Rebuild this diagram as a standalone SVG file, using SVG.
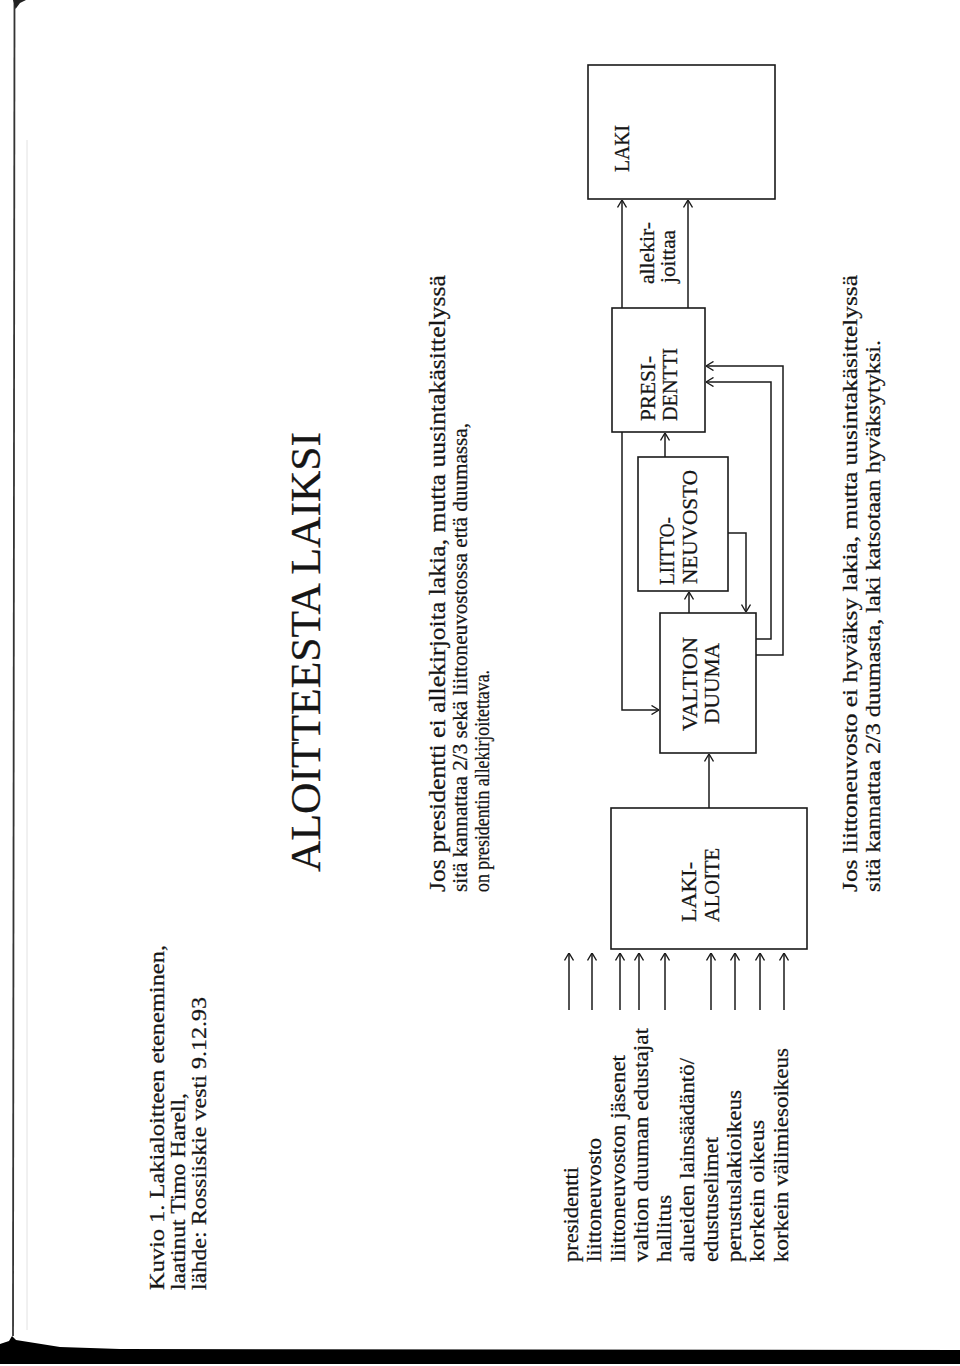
<svg xmlns="http://www.w3.org/2000/svg" width="960" height="1366" viewBox="0 0 960 1366">
<style>
.t{font-family:"Liberation Serif","DejaVu Serif",serif;fill:#151515;stroke:#151515;stroke-width:0.25}
.s20{font-size:20px}
.s21{font-size:21px}
.s23{font-size:23px}
.title{font-size:43px}
.box{fill:none;stroke:#1a1a1a;stroke-width:1.6}
.ln{fill:none;stroke:#1a1a1a;stroke-width:1.5}
</style>
<defs>
<marker id="ah" viewBox="0 0 8 10" refX="8" refY="5" markerWidth="8" markerHeight="10" markerUnits="userSpaceOnUse" orient="auto">
<path d="M0.5,0.5 L8,5 L0.5,9.5" fill="none" stroke="#1a1a1a" stroke-width="1.4"/>
</marker>
</defs>
<rect width="960" height="1366" fill="#ffffff"/>

<g id="page-edge">
<line x1="14.5" y1="0" x2="13" y2="1336" stroke="#333" stroke-width="1.8"/>
<path d="M13,0 L26,0 L20,3 L15.5,9 Z" fill="#222"/>
<line x1="27" y1="140" x2="27" y2="1330" stroke="#e2e2e2" stroke-width="1"/>
<path d="M0,1349 L0,1344 L9,1341 L12,1336 L16,1340 L60,1347 L120,1349 L960,1350 L960,1364 L0,1364 Z" fill="#000"/>
</g>

<g id="caption" class="t s21">
<text x="164" y="1290" transform="rotate(-90 164 1290)" textLength="345" lengthAdjust="spacingAndGlyphs">Kuvio 1. Lakialoitteen eteneminen,</text>
<text x="185" y="1290" transform="rotate(-90 185 1290)" textLength="197" lengthAdjust="spacingAndGlyphs">laatinut Timo Harell,</text>
<text x="206" y="1290" transform="rotate(-90 206 1290)" textLength="293" lengthAdjust="spacingAndGlyphs">lähde: Rossiiskie vesti 9.12.93</text>
</g>

<g id="title" class="t title">
<text x="320" y="872" transform="rotate(-90 320 872)" textLength="440" lengthAdjust="spacingAndGlyphs">ALOITTEESTA LAIKSI</text>
</g>

<g id="note-presidentti" class="t">
<text class="s23" x="445" y="892" transform="rotate(-90 445 892)" textLength="617" lengthAdjust="spacingAndGlyphs">Jos presidentti ei allekirjoita lakia, mutta uusintakäsittelyssä</text>
<text class="s20" x="467" y="892" transform="rotate(-90 467 892)" textLength="469" lengthAdjust="spacingAndGlyphs">sitä kannattaa 2/3 sekä liittoneuvostossa että duumassa,</text>
<text class="s20" x="489" y="892" transform="rotate(-90 489 892)" textLength="222" lengthAdjust="spacingAndGlyphs">on presidentin allekirjoitettava.</text>
</g>

<g id="note-liittoneuvosto" class="t s21">
<text x="857" y="892" transform="rotate(-90 857 892)" textLength="617" lengthAdjust="spacingAndGlyphs">Jos liittoneuvosto ei hyväksy lakia, mutta uusintakäsittelyssä</text>
<text x="880" y="892" transform="rotate(-90 880 892)" textLength="552" lengthAdjust="spacingAndGlyphs">sitä kannattaa 2/3 duumasta, laki katsotaan hyväksytyksi.</text>
</g>

<g id="initiators" class="t s21">
<text x="578" y="1262" transform="rotate(-90 578 1262)" textLength="95" lengthAdjust="spacingAndGlyphs">presidentti</text>
<text x="601" y="1262" transform="rotate(-90 601 1262)" textLength="124" lengthAdjust="spacingAndGlyphs">liittoneuvosto</text>
<text x="625" y="1262" transform="rotate(-90 625 1262)" textLength="207" lengthAdjust="spacingAndGlyphs">liittoneuvoston jäsenet</text>
<text x="648" y="1262" transform="rotate(-90 648 1262)" textLength="234" lengthAdjust="spacingAndGlyphs">valtion duuman edustajat</text>
<text x="671" y="1262" transform="rotate(-90 671 1262)" textLength="67" lengthAdjust="spacingAndGlyphs">hallitus</text>
<text x="694" y="1262" transform="rotate(-90 694 1262)" textLength="204" lengthAdjust="spacingAndGlyphs">alueiden lainsäädäntö/</text>
<text x="718" y="1262" transform="rotate(-90 718 1262)" textLength="125" lengthAdjust="spacingAndGlyphs">edustuselimet</text>
<text x="741" y="1262" transform="rotate(-90 741 1262)" textLength="172" lengthAdjust="spacingAndGlyphs">perustuslakioikeus</text>
<text x="764" y="1262" transform="rotate(-90 764 1262)" textLength="142" lengthAdjust="spacingAndGlyphs">korkein oikeus</text>
<text x="788" y="1262" transform="rotate(-90 788 1262)" textLength="214" lengthAdjust="spacingAndGlyphs">korkein välimiesoikeus</text>
</g>

<g id="laki-aloite">
<rect class="box" x="611" y="808" width="196" height="141"/>
<text class="t s21" x="696" y="922" transform="rotate(-90 696 922)" textLength="60" lengthAdjust="spacingAndGlyphs">LAKI-</text>
<text class="t s21" x="719" y="922" transform="rotate(-90 719 922)" textLength="74" lengthAdjust="spacingAndGlyphs">ALOITE</text>
</g>

<g id="valtion-duuma">
<rect class="box" x="660" y="613" width="96" height="140"/>
<text class="t s21" x="697" y="731" transform="rotate(-90 697 731)" textLength="94" lengthAdjust="spacingAndGlyphs">VALTION</text>
<text class="t s21" x="719" y="724" transform="rotate(-90 719 724)" textLength="81" lengthAdjust="spacingAndGlyphs">DUUMA</text>
</g>

<g id="liittoneuvosto">
<rect class="box" x="638" y="457" width="90" height="134"/>
<text class="t s21" x="674" y="585" transform="rotate(-90 674 585)" textLength="68" lengthAdjust="spacingAndGlyphs">LIITTO-</text>
<text class="t s21" x="697" y="584" transform="rotate(-90 697 584)" textLength="114" lengthAdjust="spacingAndGlyphs">NEUVOSTO</text>
</g>

<g id="presidentti">
<rect class="box" x="612" y="308" width="93" height="124"/>
<text class="t s21" x="655" y="421" transform="rotate(-90 655 421)" textLength="65" lengthAdjust="spacingAndGlyphs">PRESI-</text>
<text class="t s21" x="677" y="421" transform="rotate(-90 677 421)" textLength="73" lengthAdjust="spacingAndGlyphs">DENTTI</text>
</g>

<g id="laki">
<rect class="box" x="588" y="65" width="187" height="134"/>
<text class="t s21" x="629" y="172" transform="rotate(-90 629 172)" textLength="47" lengthAdjust="spacingAndGlyphs">LAKI</text>
</g>

<g id="label-allekirjoittaa" class="t s21">
<text x="654" y="284" transform="rotate(-90 654 284)" textLength="62" lengthAdjust="spacingAndGlyphs">allekir-</text>
<text x="675" y="283" transform="rotate(-90 675 283)" textLength="53" lengthAdjust="spacingAndGlyphs">joittaa</text>
</g>

<g id="connectors" class="ln">
<line x1="569" y1="1010" x2="569" y2="953" marker-end="url(#ah)"/>
<line x1="592" y1="1010" x2="592" y2="953" marker-end="url(#ah)"/>
<line x1="620" y1="1010" x2="620" y2="953" marker-end="url(#ah)"/>
<line x1="639" y1="1010" x2="639" y2="953" marker-end="url(#ah)"/>
<line x1="665" y1="1010" x2="665" y2="953" marker-end="url(#ah)"/>
<line x1="711" y1="1010" x2="711" y2="953" marker-end="url(#ah)"/>
<line x1="735" y1="1010" x2="735" y2="953" marker-end="url(#ah)"/>
<line x1="760" y1="1010" x2="760" y2="953" marker-end="url(#ah)"/>
<line x1="784" y1="1010" x2="784" y2="953" marker-end="url(#ah)"/>
<line x1="709" y1="808" x2="709" y2="754" marker-end="url(#ah)"/>
<line x1="689" y1="613" x2="689" y2="592" marker-end="url(#ah)"/>
<line x1="665" y1="457" x2="665" y2="433" marker-end="url(#ah)"/>
<polyline points="622,432 622,710 659,710" marker-end="url(#ah)"/>
<polyline points="728,533 746,533 746,612" marker-end="url(#ah)"/>
<polyline points="756,639 771,639 771,382 706,382" marker-end="url(#ah)"/>
<polyline points="756,655 783,655 783,366 706,366" marker-end="url(#ah)"/>
<line x1="622" y1="308" x2="622" y2="200" marker-end="url(#ah)"/>
<line x1="688" y1="308" x2="688" y2="200" marker-end="url(#ah)"/>
</g>
</svg>
